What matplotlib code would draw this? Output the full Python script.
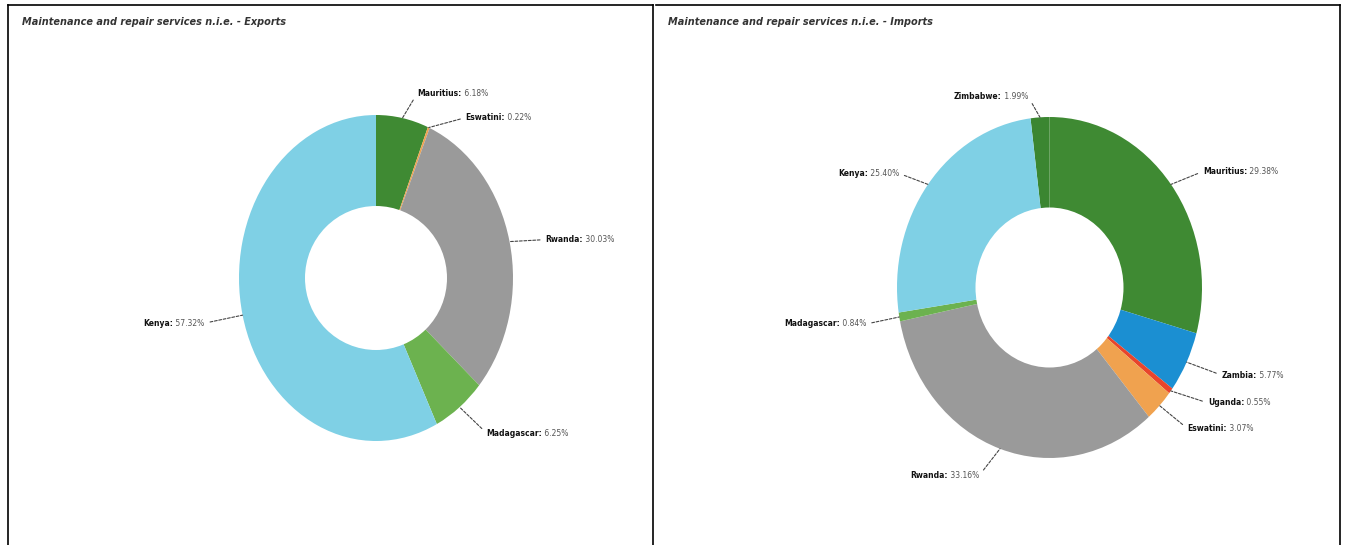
import matplotlib
matplotlib.use("Agg")
import matplotlib.pyplot as plt
from matplotlib.patches import Ellipse
from matplotlib.lines import Line2D
from matplotlib.text import Text
import numpy as np

# Export shares by partner (%), clockwise from 12 o'clock
exp_partners = ['Mauritius', 'Eswatini', 'Rwanda', 'Madagascar', 'Kenya']
exp_shares = [6.18, 0.22, 30.03, 6.25, 57.32]

# Import shares by partner (%), clockwise
imp_partners = ['Zimbabwe', 'Mauritius', 'Zambia', 'Uganda', 'Eswatini', 'Rwanda', 'Madagascar', 'Kenya']
imp_shares = [1.99, 29.38, 5.77, 0.55, 3.07, 33.16, 0.84, 25.40]

COLORS = {
    'Zimbabwe': '#3b8631',
    'Mauritius': '#3f8a33',
    'Zambia': '#1b8fd2',
    'Uganda': '#e8452c',
    'Eswatini': '#f0a24f',
    'Rwanda': '#9a9a9a',
    'Madagascar': '#6cb24f',
    'Kenya': '#7fd0e5',
}

W, H = 1345, 545

# label offsets from wedge edge, in pixels (x right, y up)
EXP_OFFSETS = {
    'Mauritius': (15, 25), 'Eswatini': (37, 10), 'Rwanda': (36, 2),
    'Madagascar': (27, -26), 'Kenya': (-38, -8),
}
IMP_OFFSETS = {
    'Zimbabwe': (-12, 21), 'Mauritius': (32, 13), 'Zambia': (35, -13),
    'Uganda': (37, -12), 'Eswatini': (28, -23), 'Rwanda': (-21, -27),
    'Madagascar': (-33, -7), 'Kenya': (-29, 11),
}

LABEL_SIZE = 5.5
LINE_KW = dict(arrowstyle='-', color='#444444', lw=0.8, linestyle=(0, (2.5, 1.5)),
               shrinkA=2, shrinkB=0)


def text_box(t):
    # bbox of the text only (Annotation's own extent includes the leader line)
    return lambda renderer: Text.get_window_extent(t, renderer)


def donut(fig, cx, cy, rx, ry, hx, hy, partners, shares, start, offsets):
    ax = fig.add_axes([(cx - rx) / W, 1 - (cy + ry) / H, 2 * rx / W, 2 * ry / H])
    wedges, _ = ax.pie(shares, colors=[COLORS[p] for p in partners], startangle=start,
                       counterclock=False, wedgeprops=dict(linewidth=0))
    ax.set_aspect('auto')
    ax.set_xlim(-1, 1)
    ax.set_ylim(-1, 1)
    ax.axis('off')
    ax.add_patch(Ellipse((0, 0), 2 * hx / rx, 2 * hy / ry, facecolor='white', edgecolor='none'))

    for w, name, val in zip(wedges, partners, shares):
        mid = np.deg2rad((w.theta1 + w.theta2) / 2)
        xy = (np.cos(mid), np.sin(mid))
        dx, dy = offsets[name]
        name_s = f'{name}:'
        val_s = f' {val:.2f}%'
        if dx >= 0:
            first = ax.annotate(name_s, xy=xy, xytext=(dx, dy), textcoords='offset pixels',
                                ha='left', va='center', fontsize=LABEL_SIZE, fontweight='bold',
                                color='#111111', annotation_clip=False,
                                arrowprops=dict(relpos=(0, 0.5), **LINE_KW))
            ax.annotate(val_s, xy=(1, 0.5), xycoords=text_box(first), ha='left', va='center',
                        fontsize=LABEL_SIZE, color='#555555', annotation_clip=False)
        else:
            first = ax.annotate(val_s, xy=xy, xytext=(dx, dy), textcoords='offset pixels',
                                ha='right', va='center', fontsize=LABEL_SIZE,
                                color='#555555', annotation_clip=False,
                                arrowprops=dict(relpos=(1, 0.5), **LINE_KW))
            ax.annotate(name_s, xy=(0, 0.5), xycoords=text_box(first), ha='right', va='center',
                        fontsize=LABEL_SIZE, fontweight='bold', color='#111111',
                        annotation_clip=False)
    return ax


fig = plt.figure(figsize=(W / 100, H / 100), dpi=100)
fig.patch.set_facecolor('white')


# panel frames
def fig_line(xs, ys):
    fig.add_artist(Line2D([x / W for x in xs], [1 - y / H for y in ys],
                          transform=fig.transFigure, color='black', lw=1.2))


fig_line([8, 8], [5, 545])
fig_line([8, 653], [5, 5])
fig_line([653, 653], [5, 545])
fig_line([656, 1340], [5, 5])
fig_line([1340, 1340], [5, 545])

fig.text(22 / W, 1 - 22 / H, 'Maintenance and repair services n.i.e. - Exports',
         fontsize=7, style='italic', fontweight='bold', color='#333333', va='center')
fig.text(668 / W, 1 - 22 / H, 'Maintenance and repair services n.i.e. - Imports',
         fontsize=7, style='italic', fontweight='bold', color='#333333', va='center')

donut(fig, 376, 278, 137, 163, 71, 72, exp_partners, exp_shares, 90, EXP_OFFSETS)
donut(fig, 1049.5, 287.5, 152.5, 170.5, 74, 80, imp_partners, imp_shares,
      90 + 360 * imp_shares[0] / sum(imp_shares), IMP_OFFSETS)

fig.savefig('out.png', dpi=100, facecolor='white')
